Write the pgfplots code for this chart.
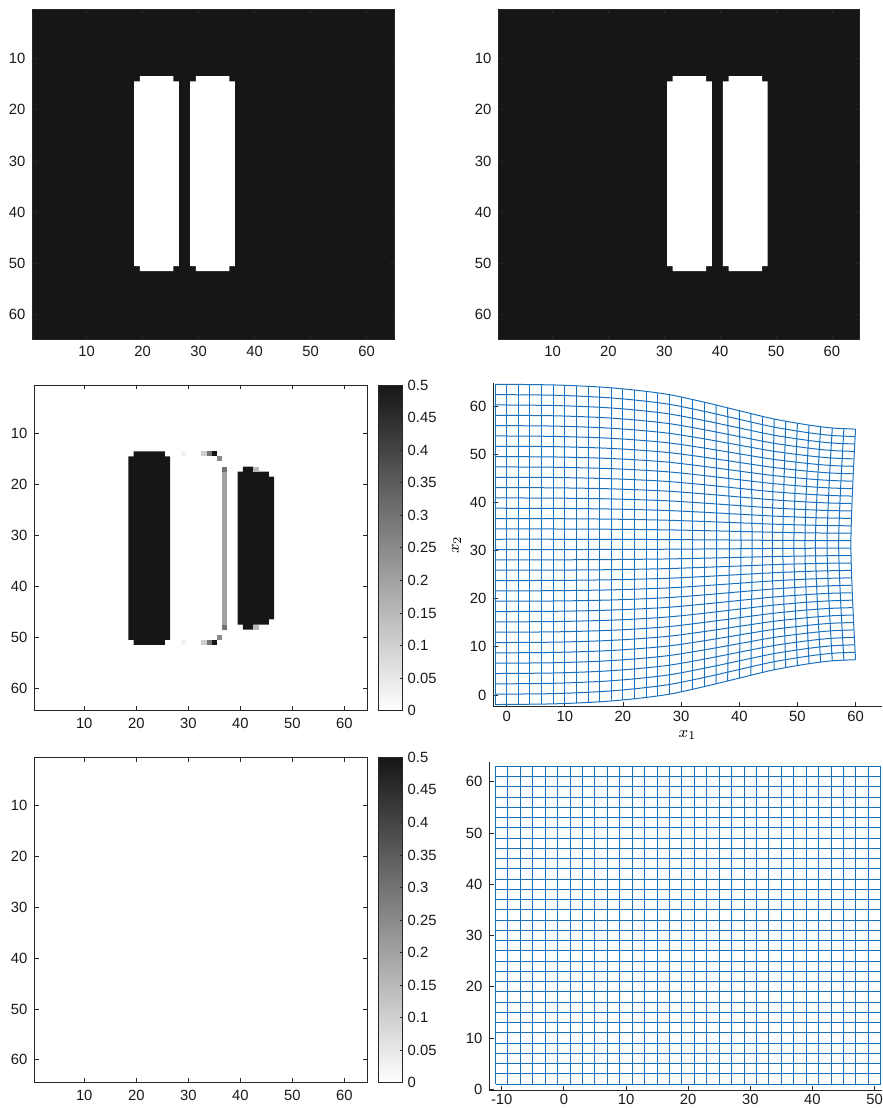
\documentclass[border=0pt]{standalone}
\usepackage{pgfplots}
\pgfplotsset{compat=1.18}
\usepackage{fontspec}
\setmainfont{Liberation Sans}
\definecolor{imgk}{RGB}{22,22,22}
\definecolor{axc}{RGB}{38,38,38}
\definecolor{gb}{RGB}{25,112,190}
\definecolor{v03}{gray}{0.945}
\definecolor{v10}{gray}{0.817}
\definecolor{v15}{gray}{0.726}
\definecolor{v20}{gray}{0.634}
\definecolor{v25}{gray}{0.543}
\definecolor{v30}{gray}{0.45}
\pgfplotsset{
  base/.style={scale only axis, tick align=inside, major tick length=2.2pt,
    axis line style={axc, line width=0.4pt}, tick style={axc, line width=0.4pt},
    tick label style={font=\fontsize{7.4}{8}\selectfont, color=black!90},
    /pgf/number format/assume math mode=true, anchor=south west},
  img/.style={base, y dir=reverse, xtick={10,20,30,40,50,60}, ytick={10,20,30,40,50,60}},
  cbar/.style={colorbar,
    colormap={wk}{rgb255(0cm)=(255,255,255); rgb255(1cm)=(22,22,22)},
    point meta min=0, point meta max=0.5,
    colorbar style={at={(parent axis.north east)}, anchor=north west, xshift=-2.85pt,
      scale only axis, width=12pt, height=#1,
      ytick={0,0.05,0.1,0.15,0.2,0.25,0.3,0.35,0.4,0.45,0.5},
      yticklabels={0,0.05,0.1,0.15,0.2,0.25,0.3,0.35,0.4,0.45,0.5},
      ytick pos=right, yticklabel pos=right, tick align=inside, major tick length=1.5pt,
      axis line style={axc, line width=0.4pt}, tick style={axc, line width=0.4pt},
      yticklabel style={font=\fontsize{7.4}{8}\selectfont, color=black!90, xshift=-1pt}}},
  open/.style={axis x line*=bottom, axis y line*=left,
    every non boxed x axis/.append style={x axis line style={-}},
    every non boxed y axis/.append style={y axis line style={-}},
    x axis line style={-}, y axis line style={-}},
  gl/.style={draw=gb, line width=0.5pt, no markers},
}
\newcommand\hl[1]{\addplot[gl,smooth] coordinates {#1};}
\newcommand\vl[1]{\addplot[gl,smooth] coordinates {#1};}
\begin{document}
\begin{tikzpicture}
\useasboundingbox (0,0) rectangle (441.5pt,554pt);
% ---------- P1 ----------
\begin{axis}[img, at={(16.15pt,384.5pt)}, width=180.85pt, height=165pt,
  xmin=0.3, xmax=64.9, ymin=0.4, ymax=64.7, axis background/.style={fill=imgk}]
\addplot[fill=white, draw=none] coordinates {(18.5,14.5) (19.5,14.5) (19.5,13.5) (25.5,13.5) (25.5,14.5) (26.5,14.5) (26.5,50.5) (25.5,50.5) (25.5,51.5) (19.5,51.5) (19.5,50.5) (18.5,50.5)};
\addplot[fill=white, draw=none] coordinates {(28.5,14.5) (29.5,14.5) (29.5,13.5) (35.5,13.5) (35.5,14.5) (36.5,14.5) (36.5,50.5) (35.5,50.5) (35.5,51.5) (29.5,51.5) (29.5,50.5) (28.5,50.5)};
\end{axis}
% ---------- P2 ----------
\begin{axis}[img, at={(249.15pt,384.5pt)}, width=180.5pt, height=165pt,
  xmin=0.3, xmax=64.9, ymin=0.4, ymax=64.7, axis background/.style={fill=imgk}]
\addplot[fill=white, draw=none] coordinates {(30.5,14.5) (31.5,14.5) (31.5,13.5) (37.5,13.5) (37.5,14.5) (38.5,14.5) (38.5,50.5) (37.5,50.5) (37.5,51.5) (31.5,51.5) (31.5,50.5) (30.5,50.5)};
\addplot[fill=white, draw=none] coordinates {(40.5,14.5) (41.5,14.5) (41.5,13.5) (47.5,13.5) (47.5,14.5) (48.5,14.5) (48.5,50.5) (47.5,50.5) (47.5,51.5) (41.5,51.5) (41.5,50.5) (40.5,50.5)};
\end{axis}
% ---------- P3 ----------
\begin{axis}[img, cbar=162.85pt, at={(17.15pt,198.65pt)}, width=166.5pt, height=162.85pt,
  xmin=0.4, xmax=64.4, ymin=0.5, ymax=64.4]
\addplot[fill=imgk, draw=none] coordinates {(18.5,14.5) (19.5,14.5) (19.5,13.5) (25.5,13.5) (25.5,14.5) (26.5,14.5) (26.5,50.5) (25.5,50.5) (25.5,51.5) (19.5,51.5) (19.5,50.5) (18.5,50.5)};
\addplot[fill=imgk, draw=none] coordinates {(39.5,17.5) (40.5,17.5) (40.5,16.5) (42.5,16.5) (42.5,17.5) (45.5,17.5) (45.5,18.5) (46.5,18.5) (46.5,46.5) (45.5,46.5) (45.5,47.5) (42.5,47.5) (42.5,48.5) (40.5,48.5) (40.5,47.5) (39.5,47.5)};
\addplot[fill=v15, draw=none] coordinates {(42.5,16.5) (43.5,16.5) (43.5,17.5) (42.5,17.5)};
\addplot[fill=v15, draw=none] coordinates {(42.5,47.5) (43.5,47.5) (43.5,48.5) (42.5,48.5)};
\addplot[fill=v20, draw=none] coordinates {(36.5,17.5) (37.5,17.5) (37.5,47.5) (36.5,47.5)};
\addplot[fill=v30, draw=none] coordinates {(36.5,16.5) (37.5,16.5) (37.5,17.5) (36.5,17.5)};
\addplot[fill=v30, draw=none] coordinates {(36.5,47.5) (37.5,47.5) (37.5,48.5) (36.5,48.5)};
\addplot[fill=imgk, draw=none] coordinates {(34.5,13.5) (35.5,13.5) (35.5,14.5) (34.5,14.5)};
\addplot[fill=imgk, draw=none] coordinates {(34.5,50.5) (35.5,50.5) (35.5,51.5) (34.5,51.5)};
\addplot[fill=v30, draw=none] coordinates {(33.5,13.5) (34.5,13.5) (34.5,14.5) (33.5,14.5)};
\addplot[fill=v30, draw=none] coordinates {(33.5,50.5) (34.5,50.5) (34.5,51.5) (33.5,51.5)};
\addplot[fill=v10, draw=none] coordinates {(32.5,13.5) (33.5,13.5) (33.5,14.5) (32.5,14.5)};
\addplot[fill=v10, draw=none] coordinates {(32.5,50.5) (33.5,50.5) (33.5,51.5) (32.5,51.5)};
\addplot[fill=v25, draw=none] coordinates {(35.5,14.5) (36.5,14.5) (36.5,15.5) (35.5,15.5)};
\addplot[fill=v25, draw=none] coordinates {(35.5,49.5) (36.5,49.5) (36.5,50.5) (35.5,50.5)};
\addplot[fill=v03, draw=none] coordinates {(28.5,13.5) (29.5,13.5) (29.5,14.5) (28.5,14.5)};
\addplot[fill=v03, draw=none] coordinates {(28.5,50.5) (29.5,50.5) (29.5,51.5) (28.5,51.5)};
\end{axis}
% ---------- P4 ----------
\begin{axis}[base, open, at={(246.65pt,201pt)}, width=194.2pt, height=161.35pt,
  xmin=-2.3, xmax=64.5, ymin=-2.3, ymax=64.7,
  xtick={0,10,20,30,40,50,60}, ytick={0,10,20,30,40,50,60},
  xticklabel style={yshift=1pt},
  xlabel={$x_1$}, ylabel={$x_2$}, label style={font=\fontsize{8.5}{9}\selectfont},
  xlabel style={yshift=2.5pt}, ylabel style={yshift=-2.5pt}]
\hl{(-2,-2.00)(8,-1.86)(16,-1.43)(22,-0.80)(28,0.16)(34,1.73)(40,3.49)(46,5.22)(52,6.48)(56,7.08)(60,7.31)}
\hl{(-2,0.15)(8,0.27)(16,0.68)(22,1.27)(28,2.17)(34,3.63)(40,5.28)(46,6.90)(52,8.08)(56,8.64)(59.90,8.86)}
\hl{(-2,2.29)(8,2.41)(16,2.79)(22,3.34)(28,4.18)(34,5.54)(40,7.07)(46,8.58)(52,9.68)(56,10.20)(59.81,10.40)}
\hl{(-2,4.44)(8,4.55)(16,4.89)(22,5.40)(28,6.18)(34,7.44)(40,8.86)(46,10.26)(52,11.28)(56,11.76)(59.72,11.95)}
\hl{(-2,6.58)(8,6.68)(16,7.00)(22,7.47)(28,8.19)(34,9.35)(40,10.65)(46,11.94)(52,12.87)(56,13.32)(59.64,13.49)}
\hl{(-2,8.73)(8,8.82)(16,9.11)(22,9.54)(28,10.19)(34,11.25)(40,12.44)(46,13.62)(52,14.47)(56,14.88)(59.57,15.03)}
\hl{(-2,10.87)(8,10.95)(16,11.22)(22,11.61)(28,12.20)(34,13.16)(40,14.24)(46,15.29)(52,16.07)(56,16.44)(59.50,16.58)}
\hl{(-2,13.02)(8,13.09)(16,13.33)(22,13.67)(28,14.20)(34,15.06)(40,16.03)(46,16.97)(52,17.67)(56,17.99)(59.44,18.12)}
\hl{(-2,15.16)(8,15.23)(16,15.44)(22,15.74)(28,16.21)(34,16.96)(40,17.82)(46,18.65)(52,19.27)(56,19.55)(59.39,19.67)}
\hl{(-2,17.31)(8,17.36)(16,17.54)(22,17.81)(28,18.21)(34,18.87)(40,19.61)(46,20.33)(52,20.86)(56,21.11)(59.34,21.21)}
\hl{(-2,19.45)(8,19.50)(16,19.65)(22,19.88)(28,20.22)(34,20.77)(40,21.40)(46,22.01)(52,22.46)(56,22.67)(59.30,22.76)}
\hl{(-2,21.60)(8,21.64)(16,21.76)(22,21.95)(28,22.23)(34,22.68)(40,23.19)(46,23.69)(52,24.06)(56,24.23)(59.27,24.30)}
\hl{(-2,23.74)(8,23.77)(16,23.87)(22,24.01)(28,24.23)(34,24.58)(40,24.98)(46,25.37)(52,25.66)(56,25.79)(59.24,25.85)}
\hl{(-2,25.89)(8,25.91)(16,25.98)(22,26.08)(28,26.24)(34,26.49)(40,26.77)(46,27.05)(52,27.26)(56,27.35)(59.22,27.39)}
\hl{(-2,28.03)(8,28.05)(16,28.09)(22,28.15)(28,28.24)(34,28.39)(40,28.56)(46,28.73)(52,28.85)(56,28.91)(59.21,28.93)}
\hl{(-2,30.18)(8,30.18)(16,30.20)(22,30.22)(28,30.25)(34,30.30)(40,30.35)(46,30.41)(52,30.45)(56,30.47)(59.20,30.48)}
\hl{(-2,32.32)(8,32.32)(16,32.30)(22,32.28)(28,32.25)(34,32.20)(40,32.15)(46,32.09)(52,32.05)(56,32.03)(59.20,32.02)}
\hl{(-2,34.47)(8,34.45)(16,34.41)(22,34.35)(28,34.26)(34,34.11)(40,33.94)(46,33.77)(52,33.65)(56,33.59)(59.21,33.57)}
\hl{(-2,36.61)(8,36.59)(16,36.52)(22,36.42)(28,36.26)(34,36.01)(40,35.73)(46,35.45)(52,35.25)(56,35.15)(59.22,35.11)}
\hl{(-2,38.76)(8,38.73)(16,38.63)(22,38.49)(28,38.27)(34,37.92)(40,37.52)(46,37.13)(52,36.84)(56,36.71)(59.24,36.66)}
\hl{(-2,40.90)(8,40.86)(16,40.74)(22,40.56)(28,40.28)(34,39.82)(40,39.31)(46,38.81)(52,38.44)(56,38.27)(59.27,38.20)}
\hl{(-2,43.05)(8,43.00)(16,42.85)(22,42.62)(28,42.28)(34,41.73)(40,41.10)(46,40.49)(52,40.04)(56,39.83)(59.30,39.74)}
\hl{(-2,45.19)(8,45.14)(16,44.96)(22,44.69)(28,44.29)(34,43.63)(40,42.89)(46,42.17)(52,41.64)(56,41.39)(59.34,41.29)}
\hl{(-2,47.34)(8,47.27)(16,47.06)(22,46.76)(28,46.29)(34,45.54)(40,44.68)(46,43.85)(52,43.24)(56,42.95)(59.39,42.83)}
\hl{(-2,49.48)(8,49.41)(16,49.17)(22,48.83)(28,48.30)(34,47.44)(40,46.47)(46,45.53)(52,44.83)(56,44.51)(59.44,44.38)}
\hl{(-2,51.63)(8,51.55)(16,51.28)(22,50.89)(28,50.30)(34,49.35)(40,48.27)(46,47.21)(52,46.43)(56,46.06)(59.50,45.92)}
\hl{(-2,53.77)(8,53.68)(16,53.39)(22,52.96)(28,52.31)(34,51.25)(40,50.06)(46,48.89)(52,48.03)(56,47.62)(59.57,47.47)}
\hl{(-2,55.92)(8,55.82)(16,55.50)(22,55.03)(28,54.31)(34,53.16)(40,51.85)(46,50.57)(52,49.63)(56,49.18)(59.64,49.01)}
\hl{(-2,58.06)(8,57.96)(16,57.61)(22,57.10)(28,56.32)(34,55.06)(40,53.64)(46,52.24)(52,51.23)(56,50.74)(59.72,50.56)}
\hl{(-2,60.21)(8,60.09)(16,59.72)(22,59.17)(28,58.33)(34,56.96)(40,55.43)(46,53.92)(52,52.82)(56,52.30)(59.81,52.10)}
\hl{(-2,62.35)(8,62.23)(16,61.82)(22,61.23)(28,60.33)(34,58.87)(40,57.22)(46,55.60)(52,54.42)(56,53.86)(59.90,53.64)}
\hl{(-2,64.50)(8,64.36)(16,63.93)(22,63.30)(28,62.34)(34,60.77)(40,59.01)(46,57.28)(52,56.02)(56,55.42)(60,55.19)}
\vl{(-2,-2.00)(-2,64.50)}
\vl{(0,-2.00)(0,64.50)}
\vl{(2,-2.00)(2,64.50)}
\vl{(4,-1.96)(4,64.46)}
\vl{(6,-1.93)(6,64.43)}
\vl{(8,-1.86)(8,64.36)}
\vl{(10,-1.77)(10,64.27)}
\vl{(12,-1.67)(12,64.17)}
\vl{(14,-1.57)(14,64.07)}
\vl{(16,-1.43)(16,63.93)}
\vl{(18,-1.23)(18,63.73)}
\vl{(20,-1.03)(20,63.53)}
\vl{(22,-0.80)(22,63.30)}
\vl{(24,-0.50)(24,63.00)}
\vl{(26,-0.20)(26,62.70)}
\vl{(28,0.16)(28,62.34)}
\vl{(30,0.60)(30,61.90)}
\vl{(32,1.13)(32,61.37)}
\vl{(34,1.73)(34,60.77)}
\vl{(36,2.29)(36.1,31.25)(36,60.21)}
\vl{(38,2.89)(38.3,31.25)(38,59.61)}
\vl{(40,3.49)(40.3,31.25)(40,59.01)}
\vl{(42,4.09)(42.2,31.25)(42,58.41)}
\vl{(44,4.65)(44,57.85)}
\vl{(46,5.22)(45.7,31.25)(46,57.28)}
\vl{(48,5.72)(47.5,31.25)(48,56.78)}
\vl{(50,6.15)(49.4,31.25)(50,56.35)}
\vl{(52,6.48)(51.3,31.25)(52,56.02)}
\vl{(54,6.78)(53.1,31.25)(54,55.72)}
\vl{(56,7.08)(55.1,31.25)(56,55.42)}
\vl{(58,7.21)(57.1,31.25)(58,55.29)}
\vl{(60,7.31)(59.2,31.25)(60,55.19)}
\end{axis}
% ---------- P5 ----------
\begin{axis}[img, cbar=162.7pt, at={(17.15pt,12.65pt)}, width=166.5pt, height=162.7pt,
  xmin=0.4, xmax=64.4, ymin=0.5, ymax=64.5]
\addplot[draw=none] coordinates {(1,1)};
\end{axis}
% ---------- P6 ----------
\begin{axis}[base, open, at={(244.65pt,8.65pt)}, width=196.35pt, height=164.5pt,
  xmin=-12, xmax=51.2, ymin=-0.3, ymax=63.9,
  xtick={-10,0,10,20,30,40,50}, ytick={0,10,20,30,40,50,60},
  xticklabel style={yshift=2pt}]
\pgfplotsinvokeforeach{-11,-9,-7,-5,-3,-1,1,3,5,7,9,11,13,15,17,19,21,23,25,27,29,31,33,35,37,39,41,43,45,47,49,51}{
  \addplot[gl] coordinates {(#1,1) (#1,63)};
}
\pgfplotsinvokeforeach{1,3,5,7,9,11,13,15,17,19,21,23,25,27,29,31,33,35,37,39,41,43,45,47,49,51,53,55,57,59,61,63}{
  \addplot[gl] coordinates {(-11,#1) (51,#1)};
}
\end{axis}
\end{tikzpicture}
\end{document}
